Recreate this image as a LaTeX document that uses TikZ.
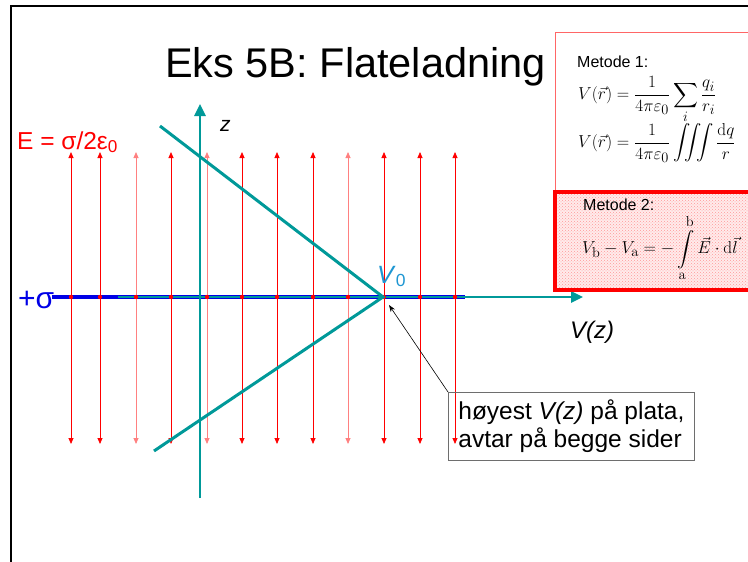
\documentclass[tikz,border=0pt]{standalone}
\usepackage{amsmath}
\usepackage[no-math]{fontspec}
\setmainfont{Liberation Sans}
\usepackage{tikz}
\usetikzlibrary{
arrows.meta,
patterns
}
\definecolor{vzteal}{RGB}{0,153,153}
\definecolor{vzblue}{RGB}{30,150,210}
\definecolor{plateblue}{RGB}{0,0,230}
\definecolor{notegray}{RGB}{110,110,110}

\begin{document}
\begin{tikzpicture}[
  x=1pt, y=-1pt,
  >={Stealth[length=7pt,width=5pt]},
  efield/.style={red, line width=0.8pt,
                 {Triangle[length=6pt,width=5pt]}-{Triangle[length=6pt,width=5pt]}},
  efieldlt/.style={efield, red!50},
  axis/.style={vzteal, line width=2.6pt, -{Triangle[length=12pt,width=11pt]}},
  vline/.style={vzteal, line width=3pt},
  lbl/.style={anchor=base west, inner sep=0pt},
  method/.style={anchor=west, inner sep=0pt, font=\fontsize{16}{18}\selectfont},
  formula/.style={anchor=west, inner sep=0pt, font=\fontsize{19}{22}\selectfont}
]
\useasboundingbox (0,0) rectangle (748,562);

%% Slide frame
\draw[line width=2pt] (11,580) -- (11,6) -- (770,6);

%% Title
\node[lbl, font=\fontsize{41.5}{44}\selectfont] (title) at (165,77)
  {Eks 5B: Flateladning};

%% Field lines
\draw[efield]   (71,152)  -- (71,444);
\draw[efield]   (100,152) -- (100,444);
\draw[efieldlt] (136,152) -- (136,444);
\draw[efield]   (171,152) -- (171,444);
\draw[efieldlt] (207,152) -- (207,444);
\draw[efield]   (242,152) -- (242,444);
\draw[efield]   (277,152) -- (277,444);
\draw[efield]   (313,152) -- (313,444);
\draw[efieldlt] (348,152) -- (348,444);
\draw[efield]   (384,152) -- (384,444);
\draw[efield]   (420,152) -- (420,444);
\draw[efield]   (455,152) -- (455,444);

\node[lbl, red, font=\fontsize{24.5}{28}\selectfont] (elbl) at (17,149)
  {E = σ/2ε\textsubscript{0}};

%% Charged plate and axes
\draw[plateblue, line width=4.5pt] (52,297) -- (465,297);
\draw[axis] (118,297) -- (583,297);
\foreach \xe in {71,100,136,171,207,242,277,313,348,384,420,455}
  \fill[red] (\xe,297) circle (2.2);
\draw[axis] (200,498) -- (200,104);

\node[lbl, plateblue, font=\fontsize{30}{34}\selectfont] (sigma) at (18,308) {+σ};
\node[lbl, font=\fontsize{21}{24}\selectfont\itshape] (zlbl) at (220,131) {z};
\node[lbl, font=\fontsize{24}{28}\selectfont\itshape] (vzlbl) at (570,338) {V(z)};

%% Potential profile
\coordinate (vtop) at (383,297);
\draw[vline] (160,126) -- (vtop) -- (154,451);
\node[lbl, vzblue, font=\fontsize{25}{28}\selectfont] (vnull) at (377,283)
  {\textit{V}\textsubscript{0}};

%% Note on the maximum
\coordinate (vtip) at (389,305);
\node[draw=notegray, line width=0.8pt, anchor=north west,
      minimum width=246pt, minimum height=68pt, inner sep=3pt,
      align=left, font=\fontsize{24.5}{28}\selectfont]
  (note) at (448,392)
  {høyest \textit{V(z)} på plata,\\avtar på begge sider};
\draw[->, line width=0.6pt] (note.north west) -- (vtip);

%% Method 1 box
\draw[red!60, line width=1pt] (555,192) -- (555,32) -- (770,32);
\node[method] (m1) at (577,62) {Metode 1:};
\node[formula] (f1) at (578,100)
  {$\displaystyle V(\vec r)=\frac{1}{4\pi\varepsilon_0}\sum_i\frac{q_i}{r_i}$};
\node[formula] (f2) at (578,143)
  {$\displaystyle V(\vec r)=\frac{1}{4\pi\varepsilon_0}\iiint\frac{\mathrm{d}q}{r}$};

%% Method 2 box
\fill[red!8] (555,192) rectangle (770,290);
\fill[pattern=crosshatch dots, pattern color=red!40] (555,192) rectangle (770,290);
\draw[red, line width=3.5pt] (770,192) -- (555,192) -- (555,290) -- (770,290);
\node[method] (m2) at (583,205) {Metode 2:};
\node[formula] (f3) at (582,248)
  {$\displaystyle V_{\mathrm{b}}-V_{\mathrm{a}}=-\int\limits_{\mathrm{a}}^{\mathrm{b}}\vec E\cdot\mathrm{d}\vec l$};

\end{tikzpicture}
\end{document}
